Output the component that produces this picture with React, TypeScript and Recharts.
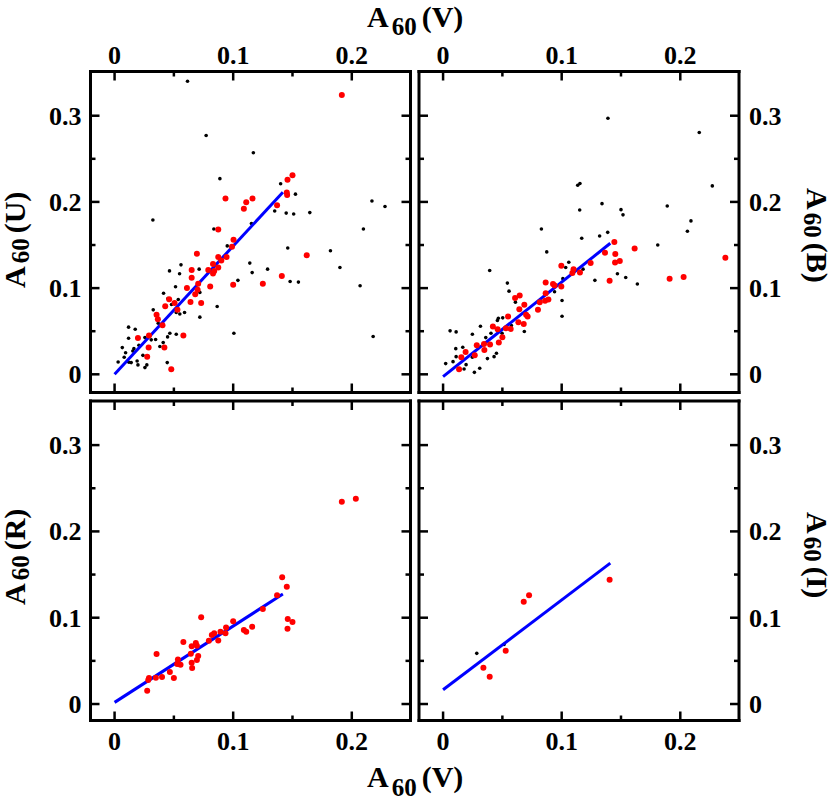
import { ScatterChart, Scatter, XAxis, YAxis } from 'recharts';

const X_TICKS = [0, 0.05, 0.1, 0.15, 0.2];
const Y_TICKS = [0, 0.05, 0.1, 0.15, 0.2, 0.25, 0.3];
const X_DOMAIN: [number, number] = [-0.0203, 0.2495];

// A60(U) vs A60(V)
const uBlack = [
  [0.0615, 0.340], [0.0772, 0.277], [0.117, 0.257], [0.0888, 0.227], [0.140, 0.221],
  [0.1525, 0.209], [0.217, 0.201], [0.228, 0.1946], [0.135, 0.1895], [0.1447, 0.187],
  [0.151, 0.186], [0.1646, 0.1876], [0.0323, 0.179], [0.0837, 0.1686], [0.1154, 0.175],
  [0.2098, 0.1686], [0.095, 0.149], [0.146, 0.1465], [0.182, 0.1434], [0.114, 0.129],
  [0.190, 0.124], [0.129, 0.122], [0.116, 0.118], [0.056, 0.127], [0.0713, 0.122],
  [0.0463, 0.120], [0.0548, 0.1167], [0.104, 0.109], [0.148, 0.1077], [0.155, 0.107],
  [0.207, 0.1027], [0.0514, 0.1016], [0.0413, 0.094], [0.0719, 0.095], [0.045, 0.088],
  [0.0537, 0.0868], [0.048, 0.081], [0.0534, 0.0756], [0.0326, 0.0748], [0.052, 0.0717],
  [0.055, 0.070], [0.059, 0.0717], [0.0865, 0.0787], [0.0719, 0.0663], [0.0368, 0.0593],
  [0.0118, 0.0547], [0.0174, 0.0523], [0.1006, 0.0477], [0.0466, 0.0477], [0.0447, 0.0434],
  [0.052, 0.0465], [0.0118, 0.0419], [0.0256, 0.0426], [0.0309, 0.040], [0.0346, 0.0403],
  [0.0065, 0.031], [0.0205, 0.0337], [0.0163, 0.0298], [0.0382, 0.0322], [0.041, 0.0368],
  [0.0093, 0.025], [0.0154, 0.027], [0.0081, 0.0198], [0.003, 0.0143], [0.0121, 0.014],
  [0.014, 0.0136], [0.019, 0.0155], [0.0239, 0.022], [0.0197, 0.0109], [0.0256, 0.0078],
  [0.0272, 0.0109], [0.0444, 0.0136], [0.218, 0.0438],
];
const uRed = [
  [0.1916, 0.324], [0.150, 0.231], [0.1458, 0.2256], [0.1452, 0.211], [0.1455, 0.208],
  [0.137, 0.196], [0.0935, 0.204], [0.111, 0.1996], [0.1163, 0.204], [0.109, 0.192],
  [0.0874, 0.168], [0.1003, 0.156], [0.099, 0.148], [0.0694, 0.140], [0.0874, 0.136],
  [0.0944, 0.136], [0.090, 0.132], [0.083, 0.128], [0.0874, 0.124], [0.079, 0.121],
  [0.084, 0.120], [0.083, 0.117], [0.065, 0.121], [0.065, 0.112], [0.0705, 0.105],
  [0.061, 0.100], [0.0806, 0.102], [0.070, 0.098], [0.068, 0.093], [0.100, 0.104],
  [0.125, 0.105], [0.141, 0.114], [0.162, 0.138], [0.064, 0.084], [0.073, 0.0826],
  [0.046, 0.087], [0.0506, 0.0826], [0.053, 0.075], [0.0427, 0.079], [0.0354, 0.069],
  [0.0365, 0.064], [0.0404, 0.057], [0.029, 0.045], [0.0197, 0.042], [0.0287, 0.031],
  [0.042, 0.031], [0.0275, 0.0205], [0.058, 0.045], [0.0478, 0.0058],
];
const uFit = [[0, 0], [0.1419, 0.2112]];

// A60(B) vs A60(V)
const bBlack = [
  [0.139, 0.297], [0.216, 0.2806], [0.227, 0.2186], [0.1135, 0.2194], [0.1154, 0.2213],
  [0.134, 0.198], [0.189, 0.1953], [0.1152, 0.1907], [0.150, 0.191], [0.1517, 0.185],
  [0.209, 0.178], [0.206, 0.166], [0.0829, 0.1686], [0.132, 0.1605], [0.1388, 0.1647],
  [0.1169, 0.1578], [0.181, 0.150], [0.0874, 0.142], [0.106, 0.130], [0.1034, 0.124],
  [0.101, 0.111], [0.118, 0.122], [0.128, 0.109], [0.147, 0.1167], [0.154, 0.1124],
  [0.1638, 0.1047], [0.0393, 0.1205], [0.0542, 0.1058], [0.0556, 0.0965], [0.1003, 0.0857],
  [0.1003, 0.0674], [0.094, 0.0957], [0.061, 0.0837], [0.0503, 0.0655], [0.0466, 0.0651],
  [0.0458, 0.0624], [0.0576, 0.0566], [0.0315, 0.0558], [0.0247, 0.0465], [0.036, 0.0426],
  [0.0059, 0.0504], [0.011, 0.0492], [0.0685, 0.0496], [0.0497, 0.0477], [0.0404, 0.0477],
  [0.0107, 0.0298], [0.0166, 0.0314], [0.011, 0.0205], [0.0084, 0.0147], [0.0022, 0.0124],
  [0.0194, 0.0112], [0.0177, 0.0062], [0.0264, 0.0023], [0.0309, 0.007], [0.0374, 0.0182],
  [0.043, 0.0205], [0.045, 0.0244], [0.0247, 0.0198],
];
const bRed = [
  [0.1444, 0.1535], [0.1365, 0.141], [0.1615, 0.146], [0.1452, 0.1395], [0.145, 0.1298],
  [0.149, 0.1314], [0.1404, 0.1085], [0.191, 0.111], [0.2028, 0.1128], [0.238, 0.1353],
  [0.1244, 0.129], [0.1154, 0.118], [0.110, 0.122], [0.109, 0.1174], [0.0997, 0.126],
  [0.0997, 0.102], [0.0927, 0.1047], [0.094, 0.103], [0.0865, 0.1066], [0.0865, 0.094],
  [0.0888, 0.0868], [0.086, 0.0853], [0.0815, 0.0837], [0.0607, 0.0884], [0.0646, 0.0915],
  [0.0643, 0.0756], [0.0685, 0.0806], [0.0713, 0.067], [0.070, 0.069], [0.0635, 0.0605],
  [0.068, 0.0585], [0.080, 0.0748], [0.0548, 0.067], [0.057, 0.0527], [0.053, 0.0535],
  [0.042, 0.0554], [0.046, 0.0523], [0.050, 0.043], [0.047, 0.0368], [0.0396, 0.0345],
  [0.0345, 0.0353], [0.0284, 0.0337], [0.0348, 0.0283], [0.0267, 0.022], [0.019, 0.026],
  [0.0154, 0.0198], [0.0135, 0.0058],
];
const bFit = [[0, -0.0027], [0.141, 0.152]];

// A60(R) vs A60(V)
const rRed = [
  [0.1916, 0.2344], [0.2034, 0.2378], [0.1413, 0.147], [0.1452, 0.136], [0.137, 0.126],
  [0.125, 0.110], [0.146, 0.0985], [0.150, 0.095], [0.1458, 0.0873], [0.116, 0.0896],
  [0.109, 0.0857], [0.111, 0.0838], [0.100, 0.0958], [0.094, 0.0888], [0.0935, 0.0819],
  [0.0893, 0.0838], [0.0874, 0.0737], [0.084, 0.0819], [0.082, 0.080], [0.0795, 0.0734],
  [0.073, 0.1004], [0.0685, 0.0707], [0.0694, 0.0676], [0.065, 0.0668], [0.0643, 0.0583],
  [0.0705, 0.0556], [0.0694, 0.051], [0.065, 0.0479], [0.0654, 0.0417], [0.058, 0.0718],
  [0.0534, 0.0517], [0.0528, 0.0463], [0.0556, 0.0456], [0.0466, 0.037], [0.050, 0.030],
  [0.0354, 0.058], [0.040, 0.0313], [0.0348, 0.0305], [0.029, 0.030], [0.0284, 0.0278],
  [0.0275, 0.0154],
];
const rFit = [[0, 0.0019], [0.1419, 0.1274]];

// A60(I) vs A60(V)
const iBlack = [[0.0284, 0.0587], [0.0514, 0.069]];
const iRed = [
  [0.1404, 0.144], [0.0725, 0.126], [0.068, 0.1185], [0.0528, 0.0618], [0.034, 0.042],
  [0.0393, 0.0317],
];
const iFit = [[0, 0.0166], [0.141, 0.1633]];

const pts = (arr: number[][]) => arr.map(([x, y]) => ({ x, y }));

const FONT = '"Liberation Serif", "Times New Roman", serif';

function EdgeTick(props: any) {
  const { x, y, payload, side, labels } = props;
  const v = payload.value;
  const major = Math.round(v * 20) % 2 === 0;
  const len = major ? 9 : 5;
  const text = v === 0 ? '0' : String(v);
  let line = null;
  let label = null;
  const t = { fontFamily: FONT, fontWeight: 'bold' as const, fontSize: 26, fill: '#000' };
  if (side === 'bottom') {
    line = <line x1={x} y1={y} x2={x} y2={y - len} />;
    if (labels && major) label = <text x={x} y={y + 29} textAnchor="middle" {...t}>{text}</text>;
  } else if (side === 'top') {
    line = <line x1={x} y1={y} x2={x} y2={y + len} />;
    if (labels && major) label = <text x={x} y={y - 8} textAnchor="middle" {...t}>{text}</text>;
  } else if (side === 'left') {
    line = <line x1={x} y1={y} x2={x + len} y2={y} />;
    if (labels && major) label = <text x={x - 9} y={y + 9} textAnchor="end" {...t}>{text}</text>;
  } else {
    line = <line x1={x} y1={y} x2={x - len} y2={y} />;
    if (labels && major) label = <text x={x + 10} y={y + 9} textAnchor="start" {...t}>{text}</text>;
  }
  return (
    <g>
      <g stroke="#000" strokeWidth={2.5}>{line}</g>
      {label}
    </g>
  );
}

const frame = { stroke: '#000', strokeWidth: 3, strokeLinecap: 'square' as const };

const redDot = (p: any) => <circle cx={p.cx} cy={p.cy} r={3} fill="#ff0000" />;
const blackDot = (p: any) => <circle cx={p.cx} cy={p.cy} r={1.8} fill="#000000" />;
const noDot = () => <g />;

interface PanelProps {
  left: number;
  right: number;
  top: number;
  bottom: number;
  yDomain: [number, number];
  labelTop: boolean;
  labelLeft: boolean;
  black: number[][];
  red: number[][];
  fit: number[][];
}

// each axis takes 1px, so margins are pulled in by 1 to keep the plot box where it belongs
function Panel({ left, right, top, bottom, yDomain, labelTop, labelLeft, black, red, fit }: PanelProps) {
  return (
    <div style={{ position: 'absolute', left: 0, top: 0 }}>
      <ScatterChart
        width={830}
        height={799}
        margin={{ top: top - 1, left: left - 1, right: 830 - right - 1, bottom: 799 - bottom - 1 }}
      >
        <XAxis
          xAxisId="b"
          orientation="bottom"
          type="number"
          dataKey="x"
          domain={X_DOMAIN}
          allowDataOverflow
          ticks={X_TICKS}
          interval={0}
          height={1}
          tickSize={0}
          tickMargin={0}
          axisLine={frame}
          tick={(p: any) => <EdgeTick {...p} side="bottom" labels={!labelTop} />}
        />
        <XAxis
          xAxisId="t"
          orientation="top"
          type="number"
          dataKey="x"
          domain={X_DOMAIN}
          allowDataOverflow
          ticks={X_TICKS}
          interval={0}
          height={1}
          tickSize={0}
          tickMargin={0}
          axisLine={frame}
          tick={(p: any) => <EdgeTick {...p} side="top" labels={labelTop} />}
        />
        <YAxis
          yAxisId="l"
          orientation="left"
          type="number"
          dataKey="y"
          domain={yDomain}
          allowDataOverflow
          ticks={Y_TICKS}
          interval={0}
          width={1}
          tickSize={0}
          tickMargin={0}
          axisLine={frame}
          tick={(p: any) => <EdgeTick {...p} side="left" labels={labelLeft} />}
        />
        <YAxis
          yAxisId="r"
          orientation="right"
          type="number"
          dataKey="y"
          domain={yDomain}
          allowDataOverflow
          ticks={Y_TICKS}
          interval={0}
          width={1}
          tickSize={0}
          tickMargin={0}
          axisLine={frame}
          tick={(p: any) => <EdgeTick {...p} side="right" labels={!labelLeft} />}
        />
        <Scatter
          xAxisId="b"
          yAxisId="l"
          data={pts(black)}
          shape={blackDot}
          isAnimationActive={false}
        />
        <Scatter
          xAxisId="b"
          yAxisId="l"
          data={pts(fit)}
          line={{ stroke: '#0000ff', strokeWidth: 3 }}
          shape={noDot}
          isAnimationActive={false}
        />
        <Scatter
          xAxisId="b"
          yAxisId="l"
          data={pts(red)}
          shape={redDot}
          isAnimationActive={false}
        />
      </ScatterChart>
    </div>
  );
}

function AxisTitle({ transform, band, sub }: { transform: string; band: string; sub: number }) {
  return (
    <text transform={transform} fontFamily={FONT} fontWeight="bold" fontSize={30} fill="#000">
      <tspan>A</tspan>
      <tspan dx={3} dy={sub} fontSize={25}>60</tspan>
      <tspan dx={5} dy={-sub}>({band})</tspan>
    </text>
  );
}

const UPPER: [number, number] = [-0.0211, 0.3513];
const LOWER: [number, number] = [-0.0191, 0.3511];

export default function App() {
  return (
    <div style={{ position: 'absolute', left: 0, top: 0, width: 830, height: 799, background: '#fff' }}>
      <Panel left={90.5} right={410.5} top={71.5} bottom={392.5} yDomain={UPPER}
        labelTop labelLeft black={uBlack} red={uRed} fit={uFit} />
      <Panel left={419} right={739} top={71.5} bottom={392.5} yDomain={UPPER}
        labelTop labelLeft={false} black={bBlack} red={bRed} fit={bFit} />
      <Panel left={90.5} right={410.5} top={401} bottom={720.5} yDomain={LOWER}
        labelTop={false} labelLeft black={[]} red={rRed} fit={rFit} />
      <Panel left={419} right={739} top={401} bottom={720.5} yDomain={LOWER}
        labelTop={false} labelLeft={false} black={iBlack} red={iRed} fit={iFit} />
      <svg width={830} height={799} style={{ position: 'absolute', left: 0, top: 0, pointerEvents: 'none' }}>
        <AxisTitle transform="translate(367,26.5)" band="V" sub={8.5} />
        <AxisTitle transform="translate(367,787)" band="V" sub={8.5} />
        <AxisTitle transform="translate(25,288) rotate(-90)" band="U" sub={3.5} />
        <AxisTitle transform="translate(25,605) rotate(-90)" band="R" sub={3.5} />
        <AxisTitle transform="translate(807,188) rotate(90)" band="B" sub={3.5} />
        <AxisTitle transform="translate(807,512) rotate(90)" band="I" sub={3.5} />
      </svg>
    </div>
  );
}
